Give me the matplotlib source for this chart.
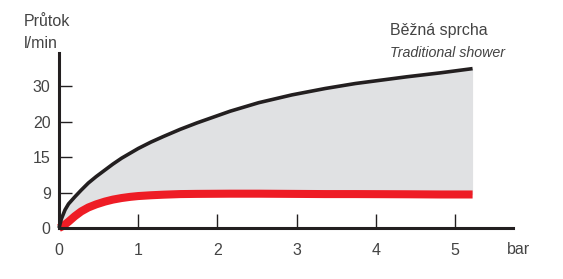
import numpy as np
import matplotlib
matplotlib.use("Agg")
import matplotlib.pyplot as plt

# pressure (bar) and flow (l/min)
tlak = [0, 0.03, 0.076, 0.12, 0.2, 0.28, 0.37, 0.47, 0.58, 0.68, 0.79,
        0.9, 1.0, 1.16, 1.32, 1.53, 1.74, 2.16, 2.52, 2.94, 3.36, 3.74,
        4.39, 4.81, 5.22]
bezna_sprcha = [0, 2.3, 4.6, 6.1, 7.9, 9.4, 10.6, 11.7, 12.8, 13.8, 14.8,
                15.55, 16.2, 17.1, 17.9, 18.9, 19.8, 22.9, 25.3, 27.5, 29.3,
                30.7, 32.6, 33.7, 34.9]
omezena = [0, 0.3, 0.9, 1.6, 3.0, 4.2, 5.2, 6.0, 6.7, 7.2, 7.6,
           7.9, 8.1, 8.3, 8.45, 8.6, 8.65, 8.7, 8.7, 8.65, 8.6, 8.6,
           8.55, 8.5, 8.5]

y_ticks = [0, 9, 15, 20, 30]
x_ticks = [0, 1, 2, 3, 4, 5]

# the y axis has evenly spaced ticks that are not evenly spaced values
_vals = [-100, 0, 9, 15, 20, 30, 200]
_pos = [-100 / 9, 0, 1, 2, 3, 4, 21]


def dopredu(v):
    return np.interp(v, _vals, _pos)


def zpet(p):
    return np.interp(p, _pos, _vals)


cerna = "#231f20"
cervena = "#ee1c25"
seda = "#e0e1e3"
text_barva = "#444444"

plt.rcParams["font.family"] = ["Liberation Sans", "DejaVu Sans"]

fig = plt.figure(figsize=(5.63, 2.79), dpi=100)
ax = fig.add_axes([59 / 563, 51 / 279, 454 / 563, 175 / 279])
ax.set_yscale("function", functions=(dopredu, zpet))

ax.fill_between(tlak, omezena, bezna_sprcha, color=seda, lw=0, zorder=1)
ax.plot(tlak, bezna_sprcha, color=cerna, lw=2.6, zorder=3,
        solid_capstyle="butt", solid_joinstyle="round", clip_on=False)
ax.plot(tlak, omezena, color=cervena, lw=5.8, zorder=2,
        solid_capstyle="butt", solid_joinstyle="round", clip_on=False)

ax.set_xlim(0, 5.73)
ax.set_ylim(0, zpet(4.93))

for s in ["top", "right"]:
    ax.spines[s].set_visible(False)
for s in ["left", "bottom"]:
    ax.spines[s].set_linewidth(2.2)
    ax.spines[s].set_color(cerna)
    ax.spines[s].set_zorder(4)

ax.set_xticks(x_ticks)
ax.set_yticks(y_ticks)
ax.set_xticklabels([str(t) for t in x_ticks])
ax.set_yticklabels([str(t) for t in y_ticks])
ax.minorticks_off()
ax.tick_params(axis="x", direction="in", length=10, width=1, color=cerna,
               pad=11, labelsize=11.5, labelcolor=text_barva)
ax.tick_params(axis="y", direction="in", length=9.5, width=1, color=cerna,
               pad=6, labelsize=11.5, labelcolor=text_barva)
ax.xaxis.get_major_ticks()[0].tick1line.set_visible(False)
ax.yaxis.get_major_ticks()[0].tick1line.set_visible(False)

fig.text(24 / 563, 1 - 22 / 279, "Průtok", fontsize=11.5, color=text_barva,
         ha="left", va="center")
fig.text(24 / 563, 1 - 44 / 279, "l/min", fontsize=11.5, color=text_barva,
         ha="left", va="center")
fig.text(518 / 563, 1 - 249 / 279, "bar", fontsize=11.5, color=text_barva,
         ha="center", va="center")
fig.text(390 / 563, 1 - 30 / 279, "Běžná sprcha", fontsize=11.5,
         color=text_barva, ha="left", va="center")
fig.text(390 / 563, 1 - 53 / 279, "Traditional shower", fontsize=10.3,
         color=text_barva, ha="left", va="center", style="italic")

fig.savefig("out.png", dpi=100)
